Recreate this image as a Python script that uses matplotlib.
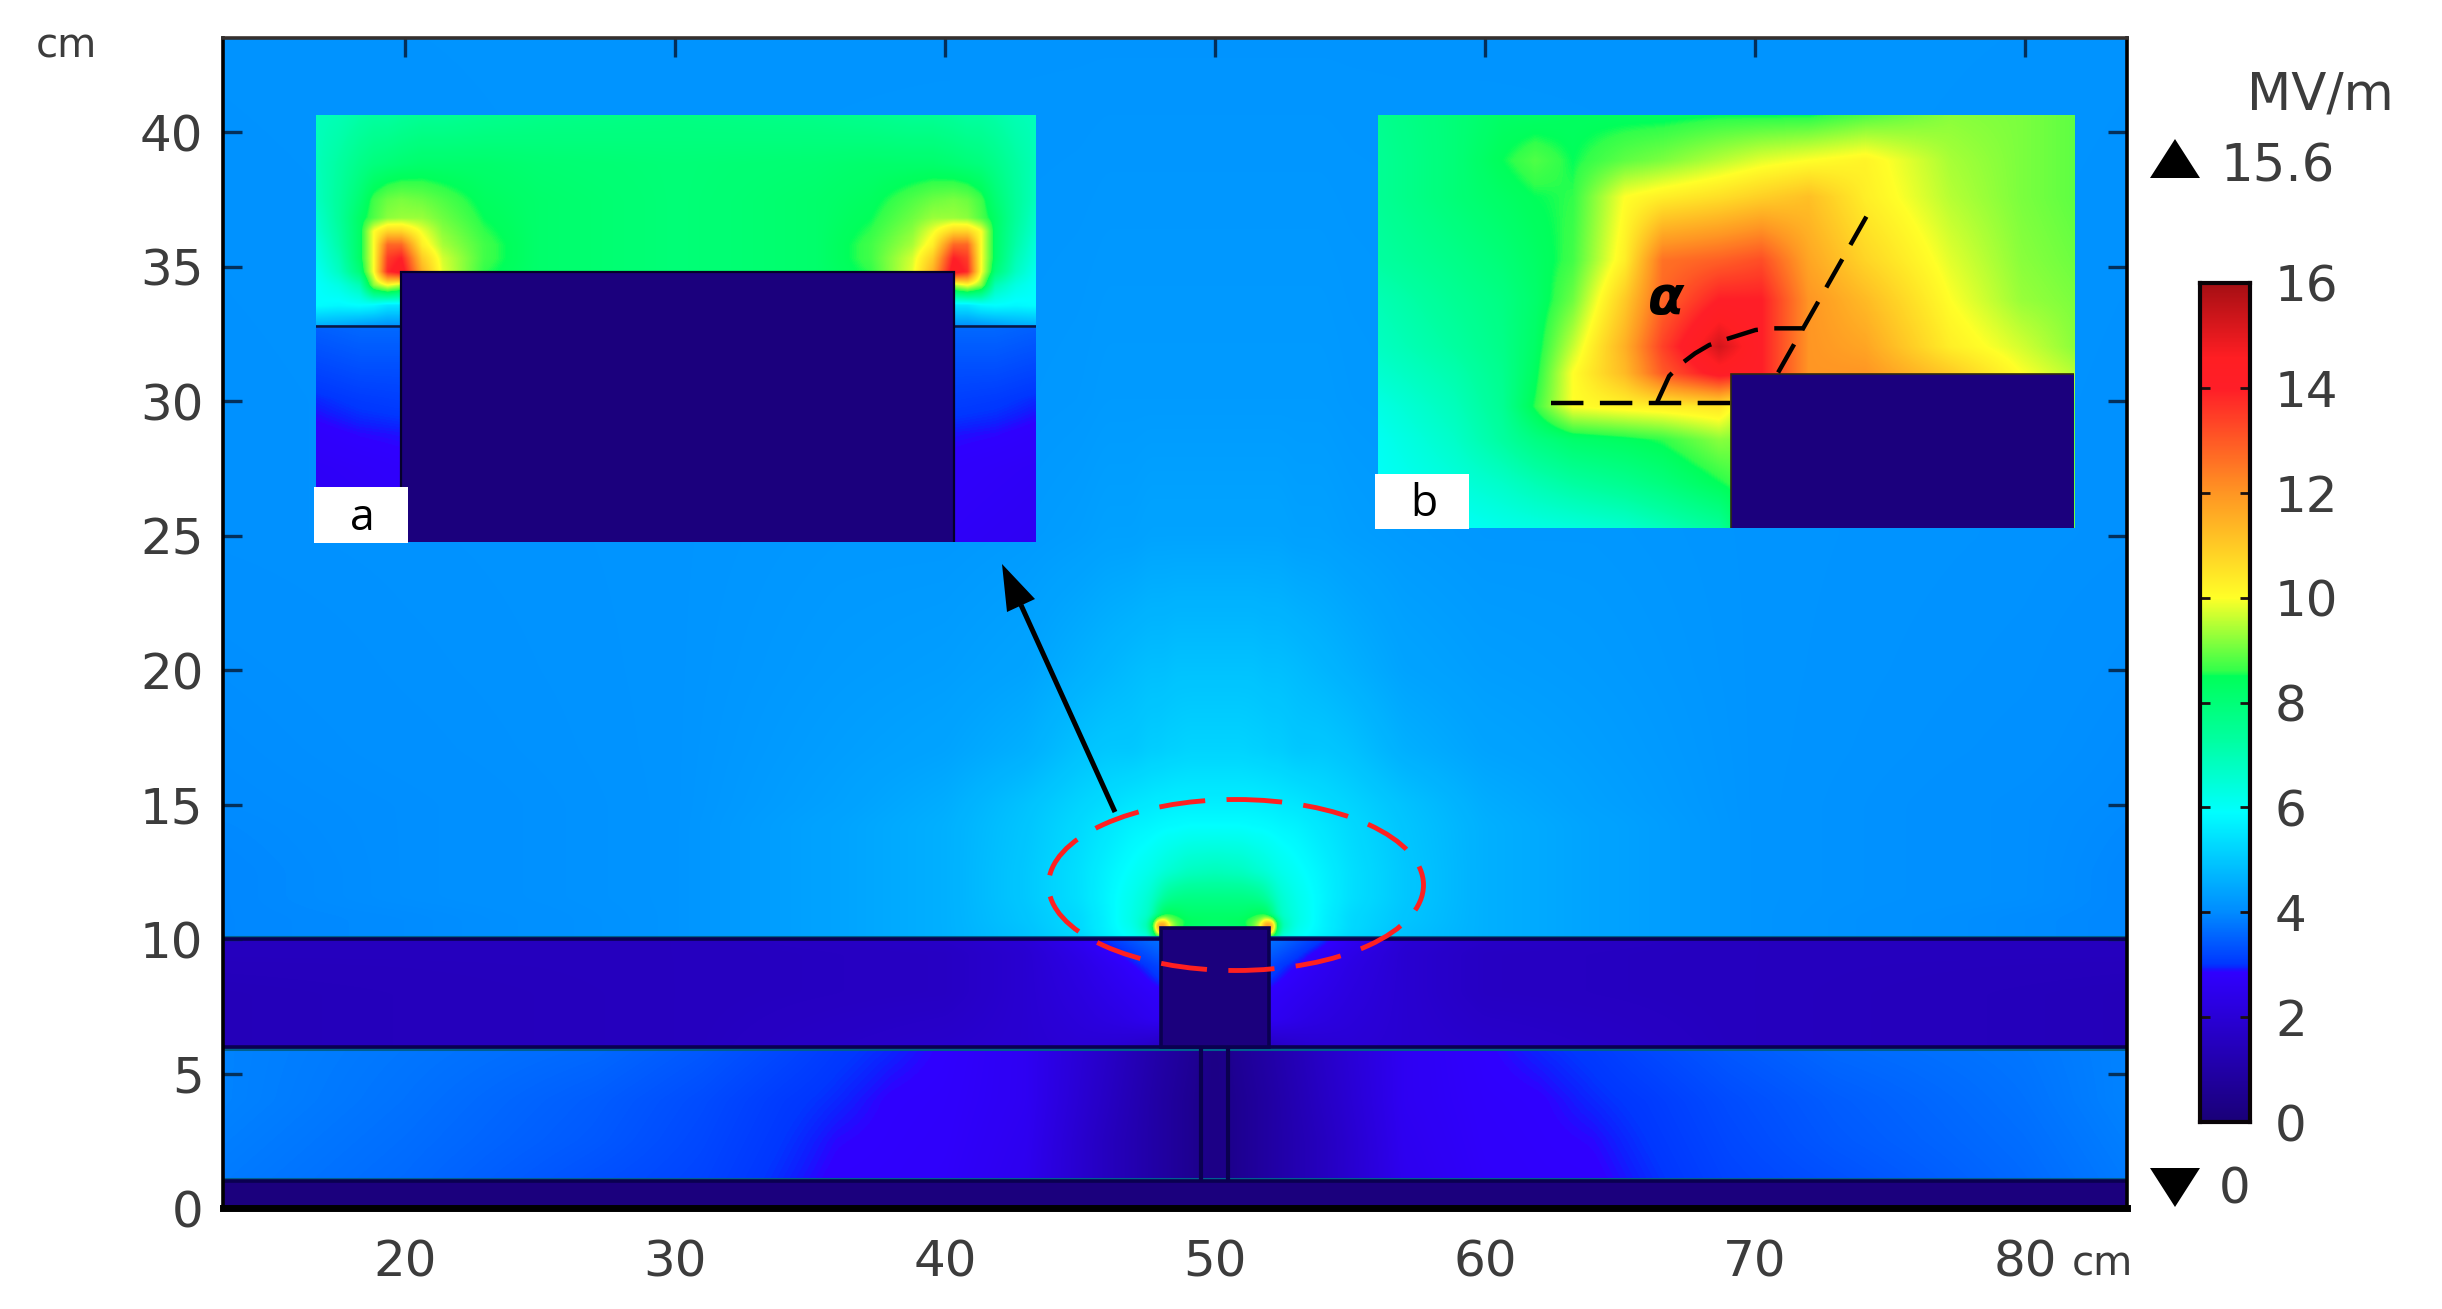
import numpy as np
import matplotlib
matplotlib.use("Agg")
import matplotlib.pyplot as plt
from matplotlib.colors import LinearSegmentedColormap
from matplotlib.patches import Rectangle, Ellipse, Polygon

W, H = 2442, 1309
DPI = 100
TXT = '#3c3c3c'
NAVY = '#1b007d'
EDGE = '#0a0050'

# ---------- axis / tick content ----------
x_ticks = [20, 30, 40, 50, 60, 70, 80]
y_ticks = [0, 5, 10, 15, 20, 25, 30, 35, 40]
cbar_ticks = [0, 2, 4, 6, 8, 10, 12, 14, 16]
field_max = '15.6'
field_min = '0'

# ---------- colour scale (value, rgb) ----------
scale_vals = [0, 2.85, 2.92, 3.0, 4.0, 5.9, 7.3, 8.5, 8.6, 10, 12, 14, 14.6, 16]
scale_rgb = [(26, 0, 120), (48, 0, 255), (15, 30, 255), (0, 55, 255), (0, 140, 255),
             (0, 255, 255), (0, 255, 160), (0, 255, 90), (50, 255, 75), (255, 255, 40),
             (255, 150, 35), (255, 30, 40), (255, 30, 35), (165, 15, 20)]

# ---------- air above the dielectric (left half, mirrored about x = 50) ----------
air_x = [13.26, 20, 30, 36, 40, 43, 45, 46, 47, 47.6, 47.8, 48, 48.2, 48.5, 49, 50]
air_y = [10, 10.4, 10.6, 10.8, 11.5, 12.5, 14.2, 15, 17, 20, 25, 30, 43.6]
air_v = [
    [3.95, 4.0, 4.15, 4.4, 4.6, 4.9, 5.2, 5.6, 6.0, 6.3, 8.0, 8.0, 8.0, 8.0, 8.0, 8.0],
    [3.95, 4.0, 4.15, 4.4, 4.6, 4.9, 5.3, 5.7, 6.2, 7.2, 10.0, 14.0, 11.0, 9.0, 8.2, 8.0],
    [3.95, 4.0, 4.15, 4.4, 4.6, 4.95, 5.3, 5.7, 6.3, 7.2, 10.0, 13.0, 10.5, 9.0, 8.5, 8.3],
    [3.95, 4.0, 4.15, 4.4, 4.6, 4.95, 5.3, 5.7, 6.3, 6.8, 7.5, 8.5, 8.7, 8.6, 8.3, 8.3],
    [3.95, 4.05, 4.15, 4.4, 4.6, 5.0, 5.4, 5.75, 6.2, 6.6, 6.9, 7.2, 7.5, 7.7, 7.8, 7.8],
    [3.95, 4.05, 4.15, 4.4, 4.6, 5.0, 5.4, 5.7, 6.0, 6.2, 6.3, 6.4, 6.5, 6.6, 6.8, 6.9],
    [3.98, 4.05, 4.15, 4.4, 4.6, 4.95, 5.3, 5.5, 5.7, 5.75, 5.8, 5.8, 5.85, 5.85, 5.9, 5.9],
    [4.0, 4.05, 4.15, 4.35, 4.55, 4.9, 5.2, 5.35, 5.5, 5.55, 5.6, 5.6, 5.6, 5.65, 5.65, 5.65],
    [4.02, 4.08, 4.15, 4.3, 4.4, 4.6, 4.9, 5.0, 5.0, 5.1, 5.1, 5.1, 5.15, 5.15, 5.2, 5.2],
    [4.05, 4.1, 4.15, 4.25, 4.3, 4.4, 4.6, 4.7, 4.8, 4.85, 4.85, 4.85, 4.85, 4.9, 4.9, 4.9],
    [4.1, 4.12, 4.15, 4.2, 4.2, 4.25, 4.3, 4.35, 4.35, 4.4, 4.4, 4.4, 4.4, 4.4, 4.4, 4.4],
    [4.1, 4.12, 4.15, 4.18, 4.2, 4.2, 4.22, 4.25, 4.25, 4.25, 4.25, 4.25, 4.25, 4.25, 4.25, 4.25],
    [4.13, 4.14, 4.15, 4.15, 4.15, 4.15, 4.15, 4.15, 4.15, 4.15, 4.15, 4.15, 4.15, 4.15, 4.15, 4.15],
]

# ---------- dielectric layer 6-10 cm (left half) ----------
die_x = [13.26, 30, 40, 43, 45, 46.5, 47.5, 48, 50]
die_y = [6, 7, 8, 9, 9.5, 10]
die_v = [
    [1.4, 1.5, 1.8, 1.9, 2.0, 1.9, 1.7, 1.5, 1.5],
    [1.4, 1.5, 1.7, 1.9, 2.1, 2.3, 2.5, 2.6, 2.6],
    [1.4, 1.5, 1.6, 1.9, 2.2, 2.5, 2.7, 2.8, 2.8],
    [1.45, 1.5, 1.6, 1.9, 2.3, 2.7, 3.0, 3.2, 3.2],
    [1.5, 1.5, 1.6, 1.9, 2.4, 2.9, 3.3, 3.5, 3.5],
    [1.5, 1.5, 1.7, 2.0, 2.6, 3.2, 3.6, 3.7, 3.7],
]

# ---------- gas layer 1-6 cm (left half) ----------
gas_x = [13.26, 20, 27, 31, 34, 36, 38, 40, 43, 46, 48, 49.3, 49.6, 50]
gas_y = [1, 2.5, 4, 6]
gas_v = [
    [3.8, 3.6, 3.3, 3.15, 2.95, 2.82, 2.8, 2.75, 2.5, 1.5, 0.9, 0.5, 0.35, 0.3],
    [3.85, 3.65, 3.4, 3.2, 3.0, 2.87, 2.82, 2.78, 2.55, 1.5, 0.9, 0.5, 0.35, 0.3],
    [3.9, 3.7, 3.45, 3.25, 3.05, 2.95, 2.84, 2.8, 2.6, 1.6, 0.9, 0.5, 0.35, 0.3],
    [3.9, 3.75, 3.6, 3.4, 3.2, 3.05, 2.95, 2.84, 2.6, 1.7, 1.0, 0.6, 0.4, 0.3],
]

# ---------- inset a: electrode corner, air part (left half) ----------
ia_x = [47.38, 47.55, 47.7, 47.8, 47.9, 48.0, 48.15, 48.3, 48.6, 49, 50]
ia_y = [10, 10.15, 10.3, 10.4, 10.5, 10.6, 10.7, 10.8, 10.93, 11.2, 11.56]
ia_v = [
    [4.6, 4.5, 4.3, 4.2, 4.1, 4.1, 4.1, 4.1, 4.1, 4.1, 4.1],
    [5.9, 5.8, 5.9, 5.8, 5.5, 5.5, 5.5, 5.5, 5.5, 5.5, 5.5],
    [5.9, 6.3, 7.0, 9.2, 10.0, 9.5, 9.5, 9.0, 9.0, 8.0, 8.0],
    [6.0, 6.8, 8.0, 10.0, 13.8, 14.5, 11.5, 9.8, 8.6, 8.2, 8.0],
    [6.2, 7.0, 8.3, 10.0, 13.5, 14.0, 11.0, 9.7, 8.7, 8.2, 8.0],
    [6.3, 7.2, 8.3, 10.0, 12.8, 12.8, 10.3, 9.4, 8.7, 8.2, 8.0],
    [6.5, 7.3, 8.3, 10.0, 10.8, 10.8, 9.9, 9.2, 8.6, 8.2, 8.0],
    [6.6, 7.4, 8.3, 8.8, 9.2, 9.3, 9.3, 9.0, 8.5, 8.2, 8.0],
    [6.8, 7.4, 8.1, 8.7, 9.0, 9.1, 9.0, 8.8, 8.4, 8.2, 8.0],
    [6.9, 7.3, 7.7, 7.9, 8.0, 8.1, 8.2, 8.2, 8.2, 8.1, 8.0],
    [6.9, 7.0, 7.2, 7.3, 7.3, 7.4, 7.5, 7.5, 7.6, 7.7, 7.8],
]
# inset a: dielectric part beside the electrode (left side, mirrored)
ib_x = [47.38, 47.7, 48]
ib_y = [8.4, 8.95, 9.2, 9.45, 9.7, 10]
ib_v = [
    [2.6, 2.65, 2.7],
    [2.7, 2.75, 2.8],
    [2.8, 2.87, 2.9],
    [2.95, 3.05, 3.1],
    [3.2, 3.3, 3.3],
    [3.5, 3.6, 3.6],
]

# ---------- inset b: single corner, sampled on the crop's own pixel grid ----------
cb_x = [38, 200, 300, 370, 450, 560, 640, 760, 850, 950, 1070, 1250, 1400, 1513]
cb_y = [45, 180, 290, 480, 600, 740, 820, 920, 1020, 1150, 1284]
cb_v = [
    [7.6, 8.0, 8.3, 8.3, 8.4, 8.4, 8.4, 8.5, 8.5, 8.5, 8.8, 9.2, 9.1, 8.9],
    [7.5, 8.0, 8.5, 8.8, 8.5, 8.9, 9.1, 9.5, 9.8, 10.0, 10.2, 9.4, 9.1, 8.9],
    [7.5, 8.0, 8.3, 8.5, 8.6, 10.0, 10.3, 10.6, 10.9, 11.2, 10.3, 9.5, 9.1, 8.9],
    [7.3, 7.7, 8.0, 8.3, 8.7, 10.3, 12.6, 12.9, 13.2, 11.7, 10.8, 9.8, 9.2, 9.0],
    [7.0, 7.5, 7.8, 8.2, 9.0, 11.0, 12.8, 14.0, 14.0, 12.0, 11.3, 10.0, 9.3, 9.1],
    [6.8, 7.3, 7.7, 8.3, 9.6, 11.5, 13.4, 15.3, 14.0, 12.0, 11.7, 10.3, 9.7, 9.2],
    [6.6, 7.1, 7.6, 8.4, 10.0, 11.3, 13.0, 14.3, 14.0, 12.0, 12.0, 11.0, 10.0, 9.5],
    [6.3, 6.9, 7.5, 8.6, 10.0, 10.2, 10.3, 10.5, 9, 9, 9, 9, 9, 9],
    [6.1, 6.7, 7.3, 7.8, 8.2, 8.4, 8.6, 9.2, 9, 9, 9, 9, 9, 9],
    [6.0, 6.4, 6.7, 7.0, 7.3, 7.6, 7.9, 8.5, 9, 9, 9, 9, 9, 9],
    [5.8, 6.0, 6.2, 6.3, 6.4, 6.6, 6.9, 7.4, 9, 9, 9, 9, 9, 9],
]


def make_cmap():
    pos = [v / 16 for v in scale_vals]
    cols = [tuple(c / 255 for c in rgb) for rgb in scale_rgb]
    return LinearSegmentedColormap.from_list('comsol', list(zip(pos, cols)), N=1024)


CMAP = make_cmap()


def mirror(xs, vals, centre):
    xs = np.asarray(xs, float)
    vals = np.asarray(vals, float)
    xr = 2 * centre - xs[::-1]
    if abs(xs[-1] - centre) < 1e-9:
        return np.r_[xs, xr[1:]], np.c_[vals, vals[:, ::-1][:, 1:]]
    return np.r_[xs, xr], np.c_[vals, vals[:, ::-1]]


def resample(xs, ys, vals, nx, ny, smooth=0):
    xs = np.asarray(xs, float)
    ys = np.asarray(ys, float)
    vals = np.asarray(vals, float)
    fx = np.linspace(xs[0], xs[-1], nx)
    fy = np.linspace(ys[0], ys[-1], ny)
    tmp = np.array([np.interp(fx, xs, row) for row in vals])
    out = np.array([np.interp(fy, ys, tmp[:, j]) for j in range(nx)]).T
    if smooth:
        k = np.ones(2 * smooth + 1) / (2 * smooth + 1)
        p = np.pad(out, smooth, mode='edge')
        p = np.apply_along_axis(lambda r: np.convolve(r, k, 'valid'), 1, p)
        p = np.apply_along_axis(lambda c: np.convolve(c, k, 'valid'), 0, p)
        out = p
    return out


def draw_field(ax, xs, ys, vals, nx, ny, smooth=0):
    img = resample(xs, ys, vals, nx, ny, smooth)
    ax.imshow(img, origin='lower', extent=(xs[0], xs[-1], ys[0], ys[-1]), aspect='auto',
              cmap=CMAP, vmin=0, vmax=16, interpolation='bilinear', interpolation_stage='data')


def px_axes(fig, left, right, top, bottom, **kw):
    return fig.add_axes([left / W, 1 - bottom / H, (right - left) / W, (bottom - top) / H], **kw)


fig = plt.figure(figsize=(W / DPI, H / DPI), dpi=DPI, facecolor='white')

# ---------- main axes ----------
ax = px_axes(fig, 223, 2127, 38, 1208)
XL = (13.26, 83.78)
YL = (0, 43.5)
ax.set_facecolor(NAVY)
x, v = mirror(air_x, air_v, 50)
x = np.r_[x[x <= XL[1]], XL[1]]
v = v[:, :len(x)]
draw_field(ax, x, air_y, v, 1900, 1000, smooth=5)
x, v = mirror(die_x, die_v, 50)
x = np.r_[x[x <= XL[1]], XL[1]]
v = v[:, :len(x)]
draw_field(ax, x, die_y, v, 1400, 110, smooth=3)
x, v = mirror(gas_x, gas_v, 50)
x = np.r_[x[x <= XL[1]], XL[1]]
v = v[:, :len(x)]
draw_field(ax, x, gas_y, v, 1900, 135, smooth=3)
ax.set_xlim(*XL)
ax.set_ylim(*YL)

# electrode, base and interfaces
ax.add_patch(Rectangle((13, 0), 72, 1, fc=NAVY, ec='none', zorder=3))
ax.add_patch(Rectangle((48, 6), 4, 4.4, fc=NAVY, ec=EDGE, lw=2.6, zorder=5))
ax.plot([49.5, 49.5], [1, 6], color=EDGE, lw=3, zorder=5, solid_capstyle='butt')
ax.plot([50.5, 50.5], [1, 6], color=EDGE, lw=3, zorder=5, solid_capstyle='butt')
for y0, off in ((10, 0.09), (6, -0.09), (1, 0.09)):
    ax.plot(XL, [y0 + off] * 2, color='#00608e', lw=2.2, zorder=4, solid_capstyle='butt')
    ax.plot(XL, [y0, y0], color=EDGE, lw=2.6, zorder=4, solid_capstyle='butt')

ax.set_xticks(x_ticks)
ax.set_yticks(y_ticks)
ax.tick_params(axis='both', direction='in', length=14, width=2.4, color='#04305a',
               top=True, right=True, labelsize=36, labelcolor=TXT)
ax.tick_params(axis='x', pad=22)
ax.tick_params(axis='y', pad=14)
for lbl in ax.get_xticklabels() + ax.get_yticklabels():
    lbl.set_color(TXT)
for s in ax.spines.values():
    s.set_color('black')
    s.set_linewidth(2.6)
    s.set_zorder(8)
ax.spines['bottom'].set_linewidth(5)
ax.spines['top'].set_color('#35302e')

# ---------- inset a ----------
ia = px_axes(fig, 316, 1036, 115, 542)
ia.set_facecolor('white')
x, v = mirror(ia_x, ia_v, 50)
draw_field(ia, x, ia_y, v, 720, 230)
img = resample(ib_x, ib_y, ib_v, 40, 220)
ia.imshow(img, origin='lower', extent=(47.38, 48, 8.4, 10), aspect='auto', cmap=CMAP, vmin=0, vmax=16,
          interpolation='bilinear', interpolation_stage='data')
ia.imshow(img[:, ::-1], origin='lower', extent=(52, 52.62, 8.4, 10), aspect='auto', cmap=CMAP, vmin=0, vmax=16,
          interpolation='bilinear', interpolation_stage='data')
ia.set_xlim(47.385, 52.593)
ia.set_ylim(8.4, 11.56)
ia.add_patch(Rectangle((48, 8.3), 4, 2.1, fc=NAVY, ec='#05002a', lw=1.6, zorder=5))
ia.plot([47.38, 52.62], [10, 10], color='#0a1a40', lw=1.8, zorder=4)
ia.set_xticks([]); ia.set_yticks([])
for s in ia.spines.values():
    s.set_visible(False)

# ---------- inset b ----------
ib = px_axes(fig, 1378, 2074, 115, 528)
draw_field(ib, cb_x, cb_y, cb_v, 700, 420)
ib.set_xlim(38, 1513)
ib.set_ylim(1284, 45)
ib.add_patch(Rectangle((787, 822), 760, 500, fc=NAVY, ec='#302a10', lw=1.2, zorder=5))
ib.set_xticks([]); ib.set_yticks([])
for s in ib.spines.values():
    s.set_visible(False)
dash = (0, (7.3, 3.7))
ib.plot([405, 787], [910, 910], color='black', lw=3.2, ls=dash, zorder=6)
ib.plot([1073, 885], [350, 820], color='black', lw=3.2, ls=dash, zorder=6)
arc_x = [630, 643, 655, 682, 710, 740, 775, 838, 875, 940]
arc_y = [905, 865, 828, 790, 760, 735, 718, 690, 685, 685]
ib.plot(arc_x, arc_y, color='black', lw=3.2, ls=dash, zorder=6)
ib.text(648, 597, '\u03b1', fontsize=38, fontweight='bold', fontstyle='italic', color='black',
        ha='center', va='center', zorder=7)

# ---------- colour bar ----------
cb = px_axes(fig, 2200, 2250, 283, 1122)
grad = np.linspace(0, 16, 839)[:, None]
cb.imshow(grad, origin='lower', extent=(0, 1, 0, 16), aspect='auto', cmap=CMAP, vmin=0, vmax=16)
cb.set_xticks([])
cb.set_yticks(cbar_ticks)
cb.tick_params(axis='y', direction='in', length=7, width=2, left=True, right=True, labelleft=False,
               labelright=True, labelsize=36, labelcolor=TXT, pad=18, color='#1a1010')
for s in cb.spines.values():
    s.set_color('#0a0408')
    s.set_linewidth(3)

# ---------- overlay in figure pixels ----------
ov = fig.add_axes([0, 0, 1, 1], zorder=20)
ov.set_xlim(0, W)
ov.set_ylim(H, 0)
ov.axis('off')
ov.patch.set_alpha(0)

ov.add_patch(Ellipse((1236, 885), 375, 171, fill=False, ec='#ff2020', lw=3.5, ls=(0, (9.5, 4.4))))
ov.plot([1115, 1021], [812, 605], color='black', lw=3.6, solid_capstyle='butt')
ov.add_patch(Polygon([(1002, 564), (1035, 599), (1007, 612)], fc='black', ec='none'))

ov.add_patch(Rectangle((314, 487), 94, 56, fc='white', ec='none'))
ov.text(362, 519, 'a', fontsize=32, family='Open Sans', color='black', ha='center', va='center')
ov.add_patch(Rectangle((1375, 474), 94, 55, fc='white', ec='none'))
ov.text(1424, 505, 'b', fontsize=32, family='Open Sans', color='black', ha='center', va='center')

ov.add_patch(Polygon([(2150, 178), (2200, 178), (2175, 139)], fc='black', ec='none'))
ov.add_patch(Polygon([(2150, 1168), (2200, 1168), (2175, 1207)], fc='black', ec='none'))
ov.text(2247, 95, 'MV/m', fontsize=37, color=TXT, ha='left', va='center')
ov.text(2220, 167, field_max, fontsize=37, color=TXT, ha='left', va='center')
ov.text(2219, 1190, field_min, fontsize=36, color=TXT, ha='left', va='center')
ov.text(36, 47, 'cm', fontsize=29, color=TXT, ha='left', va='center')
ov.text(2072, 1264, 'cm', fontsize=29, color=TXT, ha='left', va='center')

fig.savefig('out.png', dpi=DPI, facecolor='white')
